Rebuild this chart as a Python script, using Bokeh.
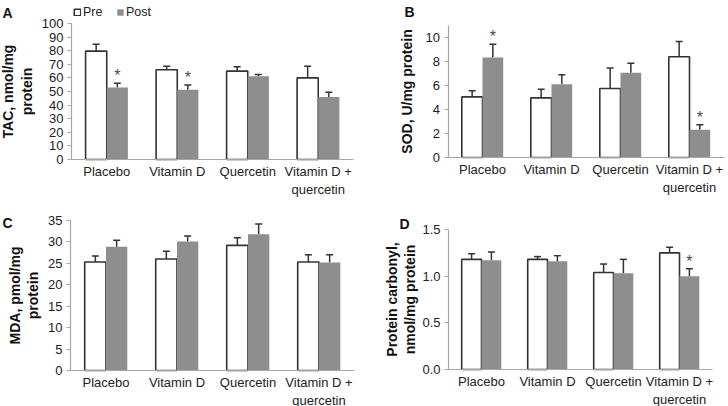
from bokeh.plotting import figure
from bokeh.layouts import gridplot
from bokeh.models import (ColumnDataSource, Range1d, FixedTicker, Whisker, TeeHead,
                          Label, Legend, LegendItem, NumeralTickFormatter)
from bokeh.transform import dodge
from bokeh.core.properties import value
from bokeh.embed import file_html
from bokeh.resources import INLINE

categories = ["Placebo", "Vitamin D", "Quercetin", "Vitamin D +\nquercetin"]
series = ["Pre", "Post"]

tac_pre = [79.7, 66.0, 65.0, 60.0]
tac_pre_err = [5.0, 2.6, 3.2, 8.5]
tac_post = [53.0, 51.2, 61.3, 46.0]
tac_post_err = [3.1, 3.5, 1.2, 3.4]
tac_sig = ["*", "*", "", ""]
tac_ticks = [0, 10, 20, 30, 40, 50, 60, 70, 80, 90, 100]

sod_pre = [5.05, 4.97, 5.75, 8.40]
sod_pre_err = [0.52, 0.72, 1.70, 1.27]
sod_post = [8.34, 6.10, 7.07, 2.32]
sod_post_err = [1.10, 0.80, 0.78, 0.41]
sod_sig = ["*", "", "", "*"]
sod_ticks = [0, 2, 4, 6, 8, 10]

mda_pre = [25.3, 26.0, 29.2, 25.3]
mda_pre_err = [1.4, 1.8, 1.8, 1.7]
mda_post = [28.9, 30.1, 31.8, 25.2]
mda_post_err = [1.5, 1.3, 2.4, 1.8]
mda_sig = ["", "", "", ""]
mda_ticks = [0, 5, 10, 15, 20, 25, 30, 35]

pc_pre = [1.18, 1.18, 1.04, 1.25]
pc_pre_err = [0.06, 0.03, 0.09, 0.06]
pc_post = [1.17, 1.16, 1.03, 1.00]
pc_post_err = [0.09, 0.06, 0.15, 0.08]
pc_sig = ["", "", "", "*"]
pc_ticks = [0, 0.5, 1.0, 1.5]

FONT = "Liberation Sans"
AXIS_GRAY = "#a6a6a6"
DARK = "#333333"
POST_FILL = "#8e8e8e"
W, H = 364, 203


def panel(letter, ylabel, pre, pre_err, post, post_err, sig, ymax, yticks, fmt,
          geom, letter_xy, label_standoff, legend_xy=None):
    # geom (page pixels): figure origin, x pixel of category-axis start, px per category,
    # y pixel of value 0, y pixel of the axis top (ymax)
    fx, fy, x0, ux, y0, ytop = geom
    uy = (y0 - ytop) / ymax
    x_range = Range1d((fx - x0) / ux, (fx + W - x0) / ux)
    y_range = Range1d(-(fy + H - y0) / uy, (y0 - fy) / uy)

    xpos = [i + 0.5 for i in range(len(categories))]
    src = ColumnDataSource(dict(
        x=xpos, pre=pre, post=post,
        pre_top=[v + e for v, e in zip(pre, pre_err)],
        post_top=[v + e for v, e in zip(post, post_err)],
        sig=sig,
    ))
    p = figure(width=W, height=H, x_range=x_range, y_range=y_range, title=None,
               output_backend="svg", toolbar_location=None, min_border=0,
               outline_line_color=None, background_fill_color=None, border_fill_color=None)
    p.xgrid.visible = False
    p.ygrid.visible = False

    r_pre = p.vbar(x=dodge("x", -0.15), top="pre", width=0.3, source=src,
                   fill_color="white", line_color=DARK, line_width=1.6)
    r_post = p.vbar(x=dodge("x", 0.15), top="post", width=0.3, source=src,
                    fill_color=POST_FILL, line_color=None)

    for off, lo, hi in ((-0.15, "pre", "pre_top"), (0.15, "post", "post_top")):
        p.add_layout(Whisker(base=dodge("x", off), lower=lo, upper=hi, source=src,
                             line_color=DARK, line_width=1.5, dimension="height",
                             lower_head=None,
                             upper_head=TeeHead(size=7, line_color=DARK, line_width=1.5)))

    p.text(x=dodge("x", 0.15), y="post_top", text="sig", source=src,
           text_font=value(FONT), text_font_size="16px", text_color="#4a4a4a",
           text_align="center", text_baseline="bottom", y_offset=1)

    # axes drawn at the data origin
    xa, ya = p.xaxis[0], p.yaxis[0]
    xa.fixed_location = 0
    ya.fixed_location = 0
    xa.bounds = (0, len(categories))
    ya.bounds = (0, ymax)
    xa.ticker = FixedTicker(ticks=xpos)
    xa.major_label_overrides = {x: c for x, c in zip(xpos, categories)}
    ya.ticker = FixedTicker(ticks=yticks)
    if fmt:
        ya.formatter = NumeralTickFormatter(format=fmt)
    for ax in (xa, ya):
        ax.axis_line_color = AXIS_GRAY
        ax.axis_line_width = 1.2
        ax.major_label_text_font = FONT
        ax.major_label_text_font_size = "13px"
        ax.major_label_text_color = "#222222"
        ax.minor_tick_line_color = None
    ya.major_tick_line_color = AXIS_GRAY
    ya.major_tick_out = 4
    ya.major_tick_in = 0
    ya.major_label_standoff = 4
    xa.major_tick_line_color = None
    xa.major_tick_out = 0
    xa.major_tick_in = 0
    xa.major_label_standoff = 4
    xa.major_label_orientation = "horizontal"
    xa.major_label_text_line_height = 1.2

    ya.axis_label = ylabel
    ya.axis_label_text_font = FONT
    ya.axis_label_text_font_size = "14px"
    ya.axis_label_text_font_style = "bold"
    ya.axis_label_text_color = "#111111"
    ya.axis_label_standoff = label_standoff
    ya.axis_label_text_line_height = 1.15

    lx, ly = letter_xy
    p.add_layout(Label(x=lx, y=ly, x_units="screen", y_units="screen", text=letter,
                       text_font=FONT, text_font_size="14px", text_font_style="bold",
                       text_color="#111111", text_baseline="alphabetic"))

    if legend_xy is not None:
        leg = Legend(items=[LegendItem(label=series[0], renderers=[r_pre]),
                            LegendItem(label=series[1], renderers=[r_post])],
                     location=legend_xy, orientation="horizontal",
                     glyph_width=8, glyph_height=8, label_standoff=2, spacing=13,
                     padding=0, margin=0, border_line_color=None,
                     background_fill_alpha=0, label_text_font=FONT,
                     label_text_font_size="12.5px", label_height=10,
                     label_text_color="#222222")
        p.add_layout(leg)
    return p


pA = panel("A", "TAC, nmol/mg\nprotein", tac_pre, tac_pre_err, tac_post, tac_post_err, tac_sig,
           100, tac_ticks, None, (0, 0, 71, 70.5, 159, 23), (2, 191), 4, legend_xy=(73, 184))
pB = panel("B", "SOD, U/mg protein", sod_pre, sod_pre_err, sod_post, sod_post_err, sod_sig,
           11, sod_ticks, None, (364, 0, 447.5, 69, 157, 25), (40, 192), 8)
pC = panel("C", "MDA, pmol/mg\nprotein", mda_pre, mda_pre_err, mda_post, mda_post_err, mda_sig,
           35, mda_ticks, None, (0, 203, 70, 71, 370, 220), (2, 184), 4)
pD = panel("D", "Protein carbonyl,\nnmol/mg protein", pc_pre, pc_pre_err, pc_post, pc_post_err,
           pc_sig, 1.5, pc_ticks, "0.0", (364, 203, 448, 66, 369, 229), (35, 183), 1)

grid = gridplot([[pA, pB], [pC, pD]], toolbar_location=None)

open("out.html", "w").write(file_html(grid, INLINE))
